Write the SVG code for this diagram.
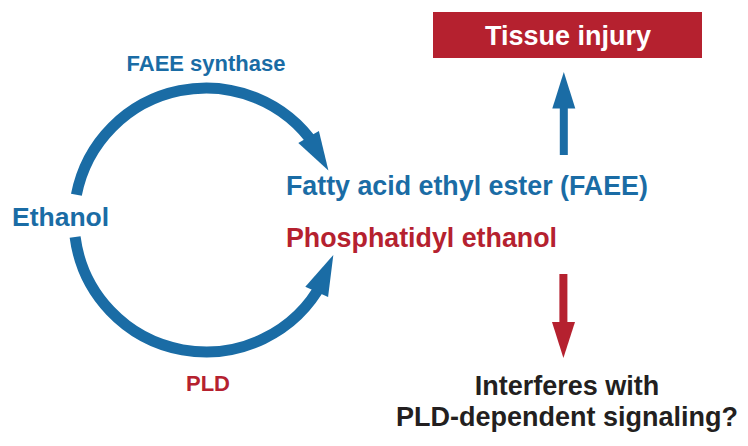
<svg xmlns="http://www.w3.org/2000/svg" width="748" height="446" viewBox="0 0 748 446">
<style>
text{font-family:"Liberation Sans",Arial,Helvetica,sans-serif;font-weight:bold}
.blue{fill:#1a6ca5}
.red{fill:#b5212f}
.dark{fill:#231f20}
.white{fill:#ffffff}
.arc{fill:none;stroke:#1a6ca5;stroke-width:11}
.bhead{fill:#1a6ca5}
.rhead{fill:#b5212f}
</style>
<rect width="748" height="446" fill="#ffffff"/>
<g id="connectors">
<path class="arc" d="M76.4,194.8 A132,132 0 0 1 315.4,146.2"/>
<polygon class="bhead" points="328.4,170.6 318.9,130.9 298.3,143.1"/>
<path class="arc" d="M75.1,237 A132,132 0 0 0 322.5,282"/>
<polygon class="bhead" points="333.3,255.1 328.1,297 305.3,286.8"/>
<rect class="bhead" x="559.8" y="104" width="8" height="51"/>
<polygon class="bhead" points="563.8,72 552.3,108.5 575.3,108.5"/>
<rect class="rhead" x="559.4" y="274" width="8" height="50"/>
<polygon class="rhead" points="552,322 575,322 563.4,358"/>
</g>
<g id="label-faee-synthase"><text class="blue" x="206" y="71" font-size="22" text-anchor="middle">FAEE synthase</text></g>
<g id="label-pld"><text class="red" x="208" y="391" font-size="22" text-anchor="middle">PLD</text></g>
<g id="node-ethanol"><text class="blue" x="12" y="226" font-size="26.5">Ethanol</text></g>
<g id="node-faee"><text class="blue" x="286" y="195" font-size="26.8">Fatty acid ethyl ester (FAEE)</text></g>
<g id="node-peth"><text class="red" x="286" y="247" font-size="26.8">Phosphatidyl ethanol</text></g>
<g id="node-tissue-injury">
<rect class="rhead" x="433" y="12" width="269" height="46"/>
<text class="white" x="568" y="45" font-size="27" text-anchor="middle">Tissue injury</text>
</g>
<g id="node-interferes">
<text class="dark" x="567" y="395" font-size="27" text-anchor="middle">Interferes with</text>
<text class="dark" x="567" y="426" font-size="27" text-anchor="middle">PLD-dependent signaling?</text>
</g>
</svg>
